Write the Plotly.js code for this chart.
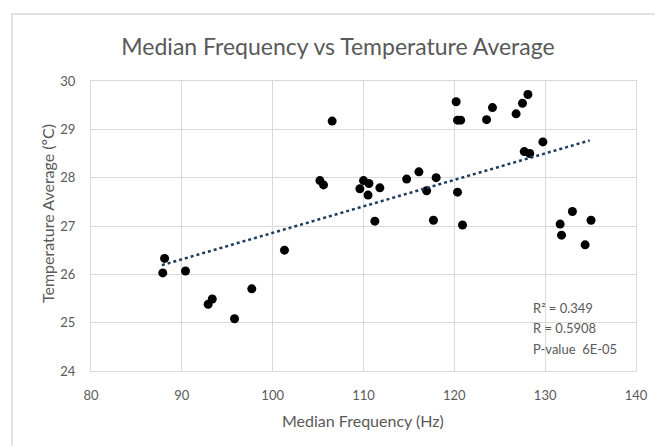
<!DOCTYPE html>
<html>
<head>
<meta charset="utf-8">
<script src="https://cdn.plot.ly/plotly-3.0.1.min.js"></script>
<style>
  html, body { margin: 0; padding: 0; background: #fff; }
  #chart { width: 655px; height: 446px; }
</style>
</head>
<body>
<div id="chart"></div>
<script>
// Median frequency (Hz)
const medianFreq = [
  88.1, 87.9, 90.4, 92.9, 93.35, 95.8, 97.7,
  101.3, 106.55, 105.2, 105.6, 109.6, 110.0, 110.6, 110.5, 111.8, 111.25,
  114.75, 116.1, 118.0, 116.95, 117.7, 120.2, 120.35, 120.7, 120.35, 120.9,
  123.55, 124.2, 126.8, 127.5, 128.1, 129.75, 127.7, 128.3,
  131.65, 131.8, 133.0, 135.05, 134.4
];
// Temperature average (ºC)
const tempAvg = [
  26.33, 26.03, 26.07, 25.38, 25.49, 25.08, 25.70,
  26.50, 29.17, 27.94, 27.85, 27.77, 27.94, 27.88, 27.64, 27.79, 27.10,
  27.97, 28.12, 28.00, 27.73, 27.12, 29.57, 29.19, 29.19, 27.70, 27.02,
  29.20, 29.45, 29.32, 29.54, 29.72, 28.74, 28.54, 28.50,
  27.04, 26.81, 27.30, 27.12, 26.61
];
// Linear trendline endpoints
const trendX = [87.8, 134.9];
const trendY = [26.19, 28.77];
// Statistics text
const statsLabels = ["R² = 0.349", "R = 0.5908", "P-value\u00a0\u00a06E-05"];
const statsY = [25.31, 24.89, 24.46];
const xTicks = [80, 90, 100, 110, 120, 130, 140];
const yTicks = [24, 25, 26, 27, 28, 29, 30];

const FONT = "Lato, 'Open Sans', sans-serif";
const GRAY = "#595959";
const GRID = "#d9d9d9";

const traces = [
  {
    x: medianFreq, y: tempAvg, type: "scatter", mode: "markers",
    marker: { color: "#000000", size: 9 },
    hoverinfo: "x+y", showlegend: false
  },
  {
    x: trendX, y: trendY, type: "scatter", mode: "lines",
    line: { color: "#1f3b5c", width: 2.5, dash: "dot" },
    hoverinfo: "skip", showlegend: false
  }
];

const annotations = statsLabels.map((t, i) => ({
  x: 128.45, y: statsY[i], xref: "x", yref: "y",
  text: t, showarrow: false, xanchor: "left", yanchor: "middle",
  font: { family: FONT, size: 13, color: GRAY }
}));
// axis titles placed as annotations (paper coords relative to plot area 91..636 x 81..371)
annotations.push({
  x: (363 - 91) / 545, y: (371 - 420) / 290, xref: "paper", yref: "paper",
  text: "Median Frequency (Hz)", showarrow: false, xanchor: "center", yanchor: "middle",
  font: { family: FONT, size: 16, color: GRAY }
});
annotations.push({
  x: (47 - 91) / 545, y: (371 - 214) / 290, xref: "paper", yref: "paper",
  text: "Temperature Average (ºC)", showarrow: false, xanchor: "center", yanchor: "middle",
  textangle: -90,
  font: { family: FONT, size: 16, color: GRAY }
});

const layout = {
  width: 655, height: 446,
  margin: { l: 91, r: 19, t: 81, b: 75, pad: 0 },
  paper_bgcolor: "#ffffff", plot_bgcolor: "#ffffff",
  font: { family: FONT, color: GRAY, size: 12 },
  title: {
    text: "Median Frequency vs Temperature Average",
    font: { family: FONT, size: 23, color: GRAY },
    x: 338 / 655, xanchor: "center", y: 1 - 47 / 446, yanchor: "middle"
  },
  xaxis: {
    range: [80, 140], tickvals: xTicks, ticktext: xTicks.map(String),
    showgrid: true, gridcolor: GRID, gridwidth: 1,
    showline: true, linecolor: GRID, linewidth: 1, mirror: true,
    zeroline: false, ticks: "", ticklabelstandoff: 12,
    tickfont: { family: FONT, size: 13, color: GRAY }
  },
  yaxis: {
    range: [24, 30], tickvals: yTicks, ticktext: yTicks.map(String),
    showgrid: true, gridcolor: GRID, gridwidth: 1,
    showline: true, linecolor: GRID, linewidth: 1, mirror: true,
    zeroline: false, ticks: "", ticklabelstandoff: 12,
    tickfont: { family: FONT, size: 13, color: GRAY }
  },
  annotations: annotations,
  shapes: [{
    type: "rect", xref: "paper", yref: "paper",
    x0: (12 - 91) / 545, x1: (700 - 91) / 545,
    y0: (371 - 500) / 290, y1: (371 - 14) / 290,
    line: { color: GRID, width: 1.5 }, fillcolor: "rgba(0,0,0,0)", layer: "below"
  }]
};

Plotly.newPlot("chart", traces, layout, { displayModeBar: false, staticPlot: true });
</script>
</body>
</html>
